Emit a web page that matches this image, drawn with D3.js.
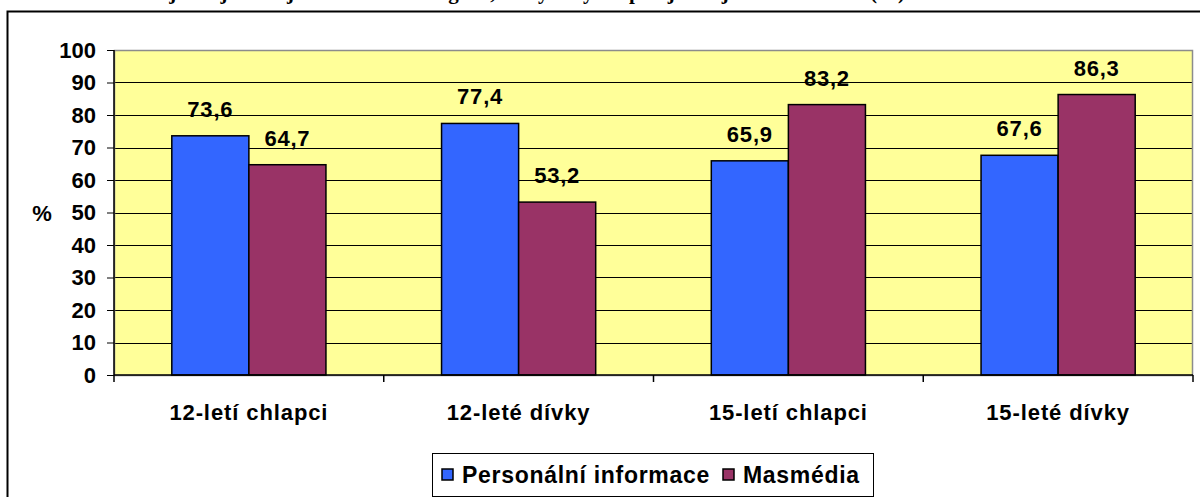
<!DOCTYPE html>
<meta charset="utf-8">

<!-- Load d3.js -->
<script src="https://d3js.org/d3.v7.min.js"></script>

<style>
  body { margin: 0; background: #fff; }
  svg text { font-family: "Liberation Sans", Arial, sans-serif; font-weight: bold; fill: #000; }
</style>

<div id="vis"></div>

<script>

// data
var categories = ["12-letí chlapci", "12-leté dívky", "15-letí chlapci", "15-leté dívky"];
var seriesNames = ["Personální informace", "Masmédia"];
var personalni = [73.6, 77.4, 65.9, 67.6];
var masmedia = [64.7, 53.2, 83.2, 86.3];
var yTicks = [0, 10, 20, 30, 40, 50, 60, 70, 80, 90, 100];
var colors = ["#3366FF", "#993366"];

var W = 1200, H = 497;
var margin = {top: 50, right: 7, bottom: 122, left: 114},
    width = 1193 - margin.left,
    height = 375 - margin.top;

var root = d3.select("#vis")
  .append("svg")
    .attr("width", W)
    .attr("height", H);

// title, cut by the top of the page (as in the original)
root.append("text")
    .attr("x", 905)
    .attr("y", -1)
    .attr("text-anchor", "end")
    .style("font-family", "'Liberation Serif', 'Times New Roman', serif")
    .style("font-size", "21px")
    .text("Nejčastější zdroje informací o drogách, kterým by dospívající nejvíce důvěřovali (%)");

// outer chart frame
root.append("rect")
    .attr("x", 7.5)
    .attr("y", 11.5)
    .attr("width", 1210)
    .attr("height", 500)
    .attr("fill", "#fff")
    .attr("stroke", "#000")
    .attr("stroke-width", 2);

var svg = root.append("g")
    .attr("transform", "translate(" + margin.left + "," + margin.top + ")");

// scales
var x0 = d3.scaleBand()
    .domain(categories)
    .range([0, width])
    .paddingInner(0)
    .paddingOuter(0);

var x1 = d3.scaleBand()
    .domain(seriesNames)
    .range([0, x0.bandwidth()])
    .paddingOuter(0.75)
    .paddingInner(0);

var y = d3.scaleLinear()
    .domain([0, 100])
    .range([height, 0]);

// plot background
svg.append("rect")
    .attr("width", width)
    .attr("height", height)
    .attr("fill", "#FFFF99");

// gridlines
svg.append("g")
  .selectAll("line")
  .data(yTicks.filter(function(d) { return d > 0 && d < 100; }))
  .enter()
  .append("line")
    .attr("x1", 0)
    .attr("x2", width)
    .attr("y1", function(d) { return Math.round(y(d)) + 0.5; })
    .attr("y2", function(d) { return Math.round(y(d)) + 0.5; })
    .attr("stroke", "#000")
    .attr("stroke-width", 1);

// plot border (grey)
svg.append("rect")
    .attr("x", 0.5)
    .attr("y", 0.5)
    .attr("width", width - 1)
    .attr("height", height)
    .attr("fill", "none")
    .attr("stroke", "#8c8c8c")
    .attr("stroke-width", 1.5);

// bars
var rows = categories.map(function(c, i) {
  return {cat: c, vals: [
    {name: seriesNames[0], v: personalni[i], i: 0},
    {name: seriesNames[1], v: masmedia[i], i: 1}
  ]};
});

var groups = svg.append("g")
  .selectAll("g")
  .data(rows)
  .enter()
  .append("g")
    .attr("transform", function(d) { return "translate(" + x0(d.cat) + ",0)"; });

groups.selectAll("rect")
  .data(function(d) { return d.vals; })
  .enter()
  .append("rect")
    .attr("x", function(d) { return x1(d.name); })
    .attr("y", function(d) { return y(d.v); })
    .attr("width", x1.bandwidth())
    .attr("height", function(d) { return height - y(d.v); })
    .attr("fill", function(d) { return colors[d.i]; })
    .attr("stroke", "#000")
    .attr("stroke-width", 1.5);

// value labels
groups.selectAll("text")
  .data(function(d) { return d.vals; })
  .enter()
  .append("text")
    .attr("x", function(d) { return x1(d.name) + x1.bandwidth() / 2; })
    .attr("y", function(d) { return y(d.v) - 19; })
    .attr("text-anchor", "middle")
    .style("font-size", "22px")
    .style("letter-spacing", "0.8px")
    .text(function(d) { return d.v.toFixed(1).replace(".", ","); });

// Y axis
var yAxis = svg.append("g")
    .call(d3.axisLeft(y).tickValues(yTicks).tickSize(7).tickPadding(11).tickFormat(d3.format("d")));
yAxis.select(".domain").attr("stroke", "#000").attr("stroke-width", 1.5).attr("d", "M0," + height + "V0");
yAxis.selectAll(".tick line").attr("stroke", "#000");
yAxis.selectAll("text")
    .style("font-size", "22px")
    .style("font-family", "'Liberation Sans', Arial, sans-serif")
    .style("font-weight", "bold");

// X axis
var xAxis = svg.append("g")
    .attr("transform", "translate(0," + height + ")")
    .call(d3.axisBottom(x0).tickSize(0).tickPadding(29));
xAxis.select(".domain").attr("stroke", "#000").attr("stroke-width", 1.5).attr("d", "M0,0H" + width);
xAxis.selectAll("text")
    .style("font-size", "22px")
    .style("letter-spacing", "0.9px")
    .style("font-family", "'Liberation Sans', Arial, sans-serif")
    .style("font-weight", "bold");

// category boundary ticks
xAxis.append("g")
  .selectAll("line")
  .data(categories.concat(["end"]))
  .enter()
  .append("line")
    .attr("x1", function(d, i) { return i * x0.step(); })
    .attr("x2", function(d, i) { return i * x0.step(); })
    .attr("y1", 0)
    .attr("y2", 7)
    .attr("stroke", "#000")
    .attr("stroke-width", 1.5);

// y axis title
root.append("text")
    .attr("x", 42)
    .attr("y", margin.top + height / 2 + 8)
    .attr("text-anchor", "middle")
    .style("font-size", "22px")
    .text("%");

// legend
var legend = root.append("g")
    .attr("transform", "translate(432,453)");

legend.append("rect")
    .attr("x", 0.5)
    .attr("y", 0.5)
    .attr("width", 441)
    .attr("height", 43)
    .attr("fill", "#fff")
    .attr("stroke", "#000")
    .attr("stroke-width", 1);

var legendX = [10, 291];
seriesNames.forEach(function(name, i) {
  legend.append("rect")
      .attr("x", legendX[i])
      .attr("y", 16)
      .attr("width", 11)
      .attr("height", 11)
      .attr("fill", colors[i])
      .attr("stroke", "#000")
      .attr("stroke-width", 1.5);
  legend.append("text")
      .attr("x", legendX[i] + 20)
      .attr("y", 30)
      .style("font-size", "23px")
      .style("letter-spacing", "0.7px")
      .text(name);
});

</script>
